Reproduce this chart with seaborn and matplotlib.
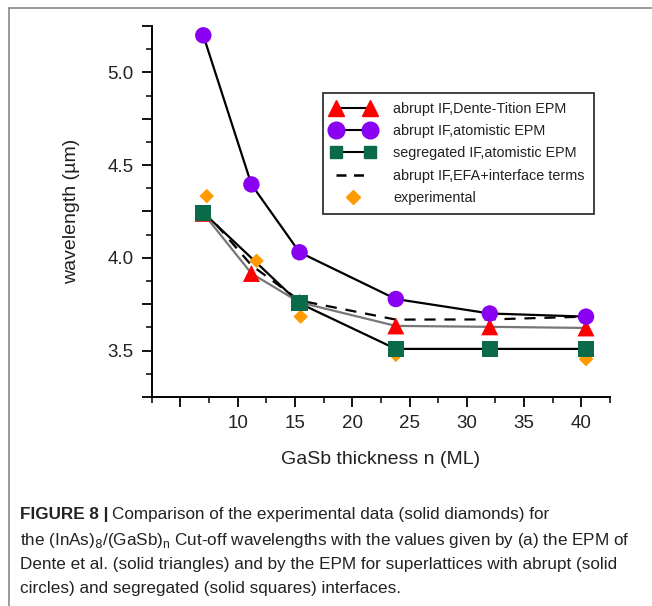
import matplotlib
matplotlib.use("Agg")
import matplotlib.pyplot as plt
import seaborn as sns
import pandas as pd
from matplotlib.lines import Line2D
from matplotlib.legend_handler import HandlerLine2D
from matplotlib.ticker import MultipleLocator, FixedLocator

sns.set_theme(style="ticks")
plt.rcParams['font.family'] = ['Liberation Sans', 'DejaVu Sans']

# ---- data ----
n_abrupt = [7.0, 11.2, 15.4, 23.8, 32.0, 40.4]
dente = [4.24, 3.916, 3.76, 3.633, 3.628, 3.622]
atomistic = [5.20, 4.396, 4.03, 3.778, 3.70, 3.683]
n_seg = [7.0, 15.4, 23.8, 32.0, 40.4]
segregated = [4.244, 3.755, 3.509, 3.509, 3.509]
efa = [4.26, 3.96, 3.77, 3.667, 3.668, 3.683]
n_exp = [7.3, 11.65, 15.5, 23.8, 40.4]
experimental = [4.333, 3.984, 3.683, 3.477, 3.454]

x_ticklabels = ["", "10", "15", "20", "25", "30", "35", "40"]

labels = ["abrupt IF,Dente-Tition EPM", "abrupt IF,atomistic EPM",
          "segregated IF,atomistic EPM", "abrupt IF,EFA+interface terms",
          "experimental"]

RED = "#ff0000"
PURPLE = "#8a00f0"
GREEN = "#0b6b48"
ORANGE = "#ff9a00"

df_d = pd.DataFrame({"n": n_abrupt, "w": dente})
df_a = pd.DataFrame({"n": n_abrupt, "w": atomistic})
df_s = pd.DataFrame({"n": n_seg, "w": segregated})
df_e = pd.DataFrame({"n": n_abrupt, "w": efa})
df_x = pd.DataFrame({"n": n_exp, "w": experimental})

fig = plt.figure(figsize=(6.52, 6.06), dpi=100)
ax = fig.add_axes([0.2327, 0.345, 0.703, 0.612])

# lines
sns.lineplot(data=df_a, x="n", y="w", ax=ax, color="black", lw=1.6, zorder=2, legend=False)
sns.lineplot(data=df_s, x="n", y="w", ax=ax, color="black", lw=1.6, zorder=2, legend=False)
sns.lineplot(data=df_d, x="n", y="w", ax=ax, color="#777777", lw=1.6, zorder=2, legend=False)
sns.lineplot(data=df_e, x="n", y="w", ax=ax, color="black", lw=1.6, zorder=2,
             dashes=False, legend=False, linestyle=(0, (5, 4)))

# markers
sns.scatterplot(data=df_x, x="n", y="w", ax=ax, color=ORANGE, marker="D", s=55,
                edgecolor="none", zorder=3, legend=False)
sns.scatterplot(data=df_d, x="n", y="w", ax=ax, color=RED, marker="^", s=150,
                edgecolor="none", zorder=4, legend=False)
sns.scatterplot(data=df_a, x="n", y="w", ax=ax, color=PURPLE, marker="o", s=140,
                edgecolor="none", zorder=4, legend=False)
sns.scatterplot(data=df_s, x="n", y="w", ax=ax, color=GREEN, marker="s", s=135,
                edgecolor="none", zorder=5, legend=False)

ax.set_xlim(2.5, 42.5)
ax.set_ylim(3.25, 5.25)
ax.xaxis.set_major_locator(FixedLocator([5, 10, 15, 20, 25, 30, 35, 40]))
ax.set_xticklabels(x_ticklabels)
ax.xaxis.set_minor_locator(MultipleLocator(2.5))
ax.yaxis.set_major_locator(MultipleLocator(0.25))
ax.yaxis.set_minor_locator(MultipleLocator(0.125))
ax.set_yticklabels(["" if abs((t * 2) - round(t * 2)) > 1e-6 else f"{t:.1f}"
                    for t in ax.get_yticks()])
ax.set_ylim(3.25, 5.25)

ax.tick_params(axis="both", which="major", direction="out", length=7, width=1.3,
               labelsize=13.5, colors="black", labelcolor="#222222", pad=6)
ax.tick_params(axis="both", which="minor", direction="out", length=4, width=1.3)
for s in ["top", "right"]:
    ax.spines[s].set_visible(False)
for s in ["left", "bottom"]:
    ax.spines[s].set_linewidth(1.4)
    ax.spines[s].set_color("black")

ax.set_xlabel("GaSb thickness n (ML)", fontsize=14, color="#222222", labelpad=14)
ax.set_ylabel("wavelength (µm)", fontsize=14, color="#222222", labelpad=20)

h_exp = Line2D([], [], color="none", marker="D", markersize=7, markerfacecolor=ORANGE,
               markeredgecolor=ORANGE)
handles = [
    Line2D([], [], color="black", lw=1.5, marker="^", markersize=12, markerfacecolor=RED,
           markeredgecolor=RED),
    Line2D([], [], color="black", lw=1.5, marker="o", markersize=12, markerfacecolor=PURPLE,
           markeredgecolor=PURPLE),
    Line2D([], [], color="black", lw=1.5, marker="s", markersize=9, markerfacecolor=GREEN,
           markeredgecolor=GREEN),
    Line2D([], [], color="black", lw=1.8, linestyle=(0, (4, 3))),
    h_exp,
]
leg = ax.legend(handles, labels, loc="upper left", bbox_to_anchor=(0.357, 0.839),
                frameon=True, fancybox=False, edgecolor="black", fontsize=10.4,
                handlelength=3.0, handletextpad=1.3, labelspacing=0.58,
                borderpad=0.6, numpoints=2,
                handler_map={h_exp: HandlerLine2D(numpoints=1)})
leg.get_frame().set_linewidth(1.3)
for t in leg.get_texts():
    t.set_color("#222222")

# figure frame (left and top gray border)
fig.add_artist(Line2D([9 / 652, 9 / 652], [0, 1 - 8 / 606], transform=fig.transFigure,
                      color="#888888", lw=1.2))
fig.add_artist(Line2D([9 / 652, 1], [1 - 8 / 606, 1 - 8 / 606], transform=fig.transFigure,
                      color="#888888", lw=1.2))

# caption
cap_x = 20 / 652
fs = 12.3
t1 = fig.text(cap_x, 1 - 515 / 606, "FIGURE 8 |", fontsize=fs, fontweight="bold",
              va="center", ha="left", color="#222222")
fig.canvas.draw()
bb = t1.get_window_extent()
fig.text(bb.x1 / 652 + 0.006, 1 - 515 / 606,
         "Comparison of the experimental data (solid diamonds) for",
         fontsize=fs, va="center", ha="left", color="#222222")
fig.text(cap_x, 1 - 540 / 606,
         r"the (InAs)$_8$/(GaSb)$_\mathregular{n}$ Cut-off wavelengths with the values given by (a) the EPM of",
         fontsize=fs, va="center", ha="left", color="#222222")
fig.text(cap_x, 1 - 564 / 606,
         "Dente et al. (solid triangles) and by the EPM for superlattices with abrupt (solid",
         fontsize=fs, va="center", ha="left", color="#222222")
fig.text(cap_x, 1 - 589 / 606,
         "circles) and segregated (solid squares) interfaces.",
         fontsize=fs, va="center", ha="left", color="#222222")

fig.savefig("out.png", dpi=100)
